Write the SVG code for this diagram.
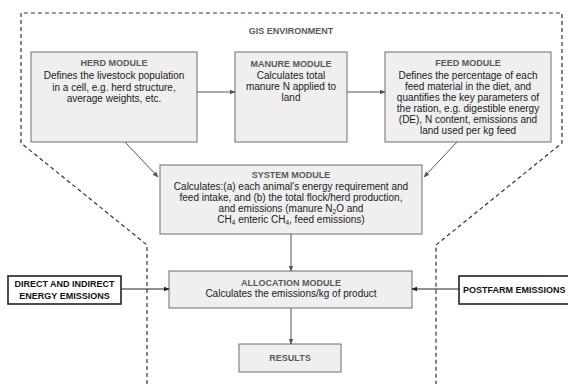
<svg xmlns="http://www.w3.org/2000/svg" width="568" height="384" viewBox="0 0 568 384">
<defs>
<marker id="ah" viewBox="0 0 10 10" refX="9" refY="5" markerWidth="6" markerHeight="6" orient="auto" markerUnits="userSpaceOnUse">
<path d="M0,1 L10,5 L0,9 z" fill="#555"/>
</marker>
<marker id="ahk" viewBox="0 0 10 10" refX="9" refY="5" markerWidth="6" markerHeight="6" orient="auto" markerUnits="userSpaceOnUse">
<path d="M0,1 L10,5 L0,9 z" fill="#222"/>
</marker>
</defs>
<style>
text{font-family:"Liberation Sans",Arial,sans-serif;font-size:10px;fill:#1a1a1a;text-anchor:middle}
.h{font-size:9px;font-weight:bold;fill:#5a5a5a}
.b{font-size:9px;font-weight:bold;fill:#111}
.box{fill:#efefef;stroke:#6e6e6e;stroke-width:1}
.ext{fill:#fff;stroke:#222;stroke-width:1.6}
.con{stroke:#555;stroke-width:1;fill:none;marker-end:url(#ah)}
.conk{stroke:#222;stroke-width:1;fill:none;marker-end:url(#ahk)}
.env{stroke:#333;stroke-width:1.2;fill:none;stroke-dasharray:4,3}
.sub{font-size:6.5px}
</style>
<rect width="568" height="384" fill="#fff"/>
<g id="gis-environment">
<path class="env" d="M147,384 L147,245 L21,143 L21,13 L562,13 L562,143 L436,245 L436,384"/>
<text class="h" x="291" y="34">GIS ENVIRONMENT</text>
</g>
<g id="herd-module">
<rect class="box" x="31" y="52" width="166" height="90"/>
<text class="h" x="114" y="66">HERD MODULE</text>
<text x="114" y="79">Defines the livestock population</text>
<text x="114" y="90.5">in a cell, e.g. herd structure,</text>
<text x="114" y="102">average weights, etc.</text>
</g>
<g id="manure-module">
<rect class="box" x="235" y="52" width="112" height="90"/>
<text class="h" x="291" y="67">MANURE MODULE</text>
<text x="291" y="78.5">Calculates total</text>
<text x="291" y="90">manure N applied to</text>
<text x="291" y="100.5">land</text>
</g>
<g id="feed-module">
<rect class="box" x="385" y="52" width="166" height="90"/>
<text class="h" x="468" y="66">FEED MODULE</text>
<text x="468" y="79">Defines the percentage of each</text>
<text x="468" y="89.5">feed material in the diet, and</text>
<text x="468" y="101">quantifies the key parameters of</text>
<text x="468" y="111.5">the ration, e.g. digestible energy</text>
<text x="468" y="122.5">(DE), N content, emissions and</text>
<text x="468" y="133.5">land used per kg feed</text>
</g>
<g id="system-module">
<rect class="box" x="160" y="165" width="262" height="69"/>
<text class="h" x="291" y="178">SYSTEM MODULE</text>
<text x="291" y="189.5">Calculates:(a) each animal's energy requirement and</text>
<text x="291" y="200.5">feed intake, and (b) the total flock/herd production,</text>
<text x="291" y="212">and emissions (manure N<tspan class="sub" dy="2">2</tspan><tspan dy="-2">O and</tspan></text>
<text x="291" y="223">CH<tspan class="sub" dy="2">4</tspan><tspan dy="-2"> enteric CH</tspan><tspan class="sub" dy="2">4</tspan><tspan dy="-2">, feed emissions)</tspan></text>
</g>
<g id="allocation-module">
<rect class="box" x="169" y="271" width="243" height="37"/>
<text class="h" x="291" y="285.5">ALLOCATION MODULE</text>
<text x="291" y="297">Calculates the emissions/kg of product</text>
</g>
<g id="results">
<rect class="box" x="239" y="344" width="102" height="28"/>
<text class="h" x="290" y="360.5">RESULTS</text>
</g>
<g id="direct-indirect">
<rect class="ext" x="8" y="276" width="113" height="28"/>
<text class="b" x="64.5" y="287">DIRECT AND INDIRECT</text>
<text class="b" x="64.5" y="299">ENERGY EMISSIONS</text>
</g>
<g id="postfarm">
<rect class="ext" x="459" y="276" width="115" height="28"/>
<text class="b" x="463" y="292.5" style="text-anchor:start">POSTFARM EMISSIONS</text>
</g>
<g id="connectors">
<line class="con" x1="197" y1="92" x2="235" y2="92"/>
<line class="con" x1="347" y1="92" x2="385" y2="92"/>
<line class="con" x1="125" y1="142" x2="158" y2="177"/>
<line class="con" x1="457" y1="142" x2="424" y2="177"/>
<line class="con" x1="291" y1="234" x2="291" y2="271"/>
<line class="con" x1="291" y1="308" x2="291" y2="344"/>
<line class="conk" x1="121" y1="289" x2="169" y2="289"/>
<line class="conk" x1="459" y1="289" x2="412" y2="289"/>
</g>
</svg>
